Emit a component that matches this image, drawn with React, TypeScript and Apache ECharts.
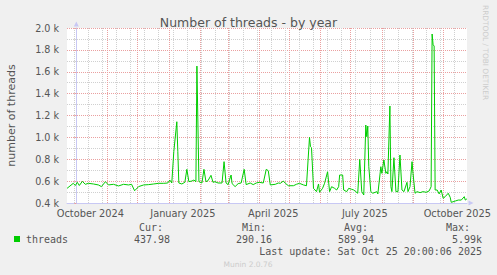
import { useEffect, useRef } from 'react';
import * as echarts from 'echarts';

const TITLE = 'Number of threads - by year';
const Y_NAME = 'number of threads';
const SERIES_NAME = 'threads';
const LAST_UPDATE = 'Last update: Sat Oct 25 20:00:06 2025';
const FOOTER = 'Munin 2.0.76';
const WATERMARK = 'RRDTOOL / TOBI OETIKER';

// days counted from 1 October 2024 (UTC)
const days = [-9.2, -3, -1, 1, 3, 6, 9, 12, 17, 22, 25, 29, 32, 37, 42, 47, 52, 55, 58, 62, 67, 72, 77, 82, 87, 91, 93, 95, 97, 100, 101, 102, 105, 108, 110, 112, 115, 117, 119, 120, 122, 125, 127, 129, 131, 134, 136, 138, 141, 145, 147, 149, 151, 154, 155, 158, 161, 164, 167, 169, 173, 176, 179, 182, 186, 189, 191, 193, 198, 201, 203, 206, 208, 211, 216, 219, 222, 226, 229, 232, 233, 234, 236, 239, 241, 242, 245, 247, 250, 252, 254, 257, 259, 261, 262, 265, 266, 269, 271, 274, 276, 278, 280, 282, 284, 286, 288, 289, 290, 291, 293, 295, 299, 300, 303, 304, 306, 308, 309, 310, 312, 313, 314, 316, 318, 320, 322, 324, 326, 329, 330, 332, 334, 335, 337, 339, 342, 345, 348, 351, 353, 354, 355, 356, 357, 359, 361, 363, 365, 367, 370, 372, 373, 377, 380, 383, 386, 387, 388.6];
const threads = [534, 580, 560, 589, 560, 598, 571, 580, 574, 565, 550, 595, 565, 571, 556, 571, 565, 571, 512, 550, 565, 568, 574, 580, 580, 583, 610, 583, 869, 1143, 869, 583, 574, 589, 708, 595, 601, 610, 595, 1652, 595, 583, 708, 595, 604, 653, 589, 595, 583, 583, 778, 583, 568, 656, 577, 550, 577, 583, 708, 568, 583, 568, 583, 589, 583, 708, 695, 565, 571, 583, 580, 601, 580, 558, 558, 571, 580, 565, 558, 1000, 915, 906, 534, 504, 574, 498, 534, 580, 686, 504, 549, 534, 519, 549, 656, 656, 519, 504, 534, 525, 519, 504, 489, 799, 504, 473, 1113, 1006, 1104, 732, 504, 489, 504, 483, 732, 671, 793, 671, 686, 665, 1287, 549, 504, 814, 504, 504, 839, 519, 504, 589, 504, 549, 778, 671, 489, 504, 495, 504, 498, 510, 549, 1945, 1845, 1836, 519, 519, 483, 519, 443, 458, 489, 452, 406, 418, 427, 427, 458, 427, 438];

const xLabels = ['October 2024', 'January 2025', 'April 2025', 'July 2025', 'October 2025'];
const statHeaders = ['Cur:', 'Min:', 'Avg:', 'Max:'];
const statValues = ['437.98', '290.16', '589.94', '5.99k'];

const DAY = 86400000;
const BASE = Date.UTC(2024, 9, 1);
const dayOf = (y: number, m: number, d: number) => (Date.UTC(y, m, d) - BASE) / DAY;

const X_MIN = -9.25;
const X_MAX = 388.7;
const Y_MIN = 400;
const Y_MAX = 2000;
const Y_STEP = 200;

const xLabelDays = [dayOf(2024, 9, 15), dayOf(2025, 0, 15), dayOf(2025, 3, 15), dayOf(2025, 6, 15), dayOf(2025, 9, 15)];
const monthStarts: number[] = [];
for (let m = 9; m <= 21; m++) monthStarts.push(dayOf(2024, m, 1));
const minorDays: number[] = [];
for (let d = dayOf(2024, 8, 29); d < X_MAX; d += 14) minorDays.push(d);

const FONT = 'DejaVu Sans';
const MONO = 'DejaVu Sans Mono';
const TEXT = '#555555';
const MAJOR = '#eaa0a0';
const MINOR = '#d0d0d0';
const AXIS = '#c8c8f4';
const GREEN = '#00cc00';

function gridAxis(values: number[], color: string) {
  return {
    type: 'value', min: X_MIN, max: X_MAX, position: 'bottom',
    axisLine: { show: false },
    axisLabel: { show: false },
    axisTick: { show: false, customValues: values },
    splitLine: { show: true, lineStyle: { color, width: 1, type: [1, 1] } },
  };
}

export default function App() {
  const ref = useRef<HTMLDivElement>(null);
  useEffect(() => {
    const chart = echarts.init(ref.current!, null, { renderer: 'svg' });
    const graphics: any[] = [];
    const headerRight = [163, 266, 368, 470];
    const valueRight = [170, 272, 374, 482];
    statHeaders.forEach((h, i) => {
      graphics.push({
        type: 'text', x: headerRight[i], y: 227,
        style: { text: h, fill: TEXT, font: `10px "${MONO}"`, textAlign: 'right', textVerticalAlign: 'middle' },
      });
      graphics.push({
        type: 'text', x: valueRight[i], y: 239.5,
        style: { text: statValues[i], fill: TEXT, font: `10px "${MONO}"`, textAlign: 'right', textVerticalAlign: 'middle' },
      });
    });
    graphics.push({
      type: 'text', x: 482, y: 251.5,
      style: { text: LAST_UPDATE, fill: TEXT, font: `10px "${MONO}"`, textAlign: 'right', textVerticalAlign: 'middle' },
    });
    graphics.push({
      type: 'text', x: 248, y: 264,
      style: { text: FOOTER, fill: '#cccccc', font: `7.5px "${FONT}"`, textAlign: 'center', textVerticalAlign: 'middle' },
    });
    graphics.push({
      type: 'text', x: 485, y: 5, rotation: -Math.PI / 2,
      style: { text: WATERMARK, fill: '#cccccc', font: `7.4px "${FONT}"`, textAlign: 'left', textVerticalAlign: 'middle' },
    });

    chart.setOption({
      animation: false,
      backgroundColor: '#f0f0f0',
      title: {
        text: TITLE, left: 'center', top: 11,
        textStyle: { fontFamily: FONT, fontSize: 12.5, fontWeight: 'normal', color: TEXT },
      },
      legend: {
        data: [SERIES_NAME], left: 14, top: 234, icon: 'rect', itemWidth: 6, itemHeight: 6,
        selectedMode: false, padding: 0,
        textStyle: { fontFamily: MONO, fontSize: 10, color: TEXT, padding: [0, 0, 0, 1] },
      },
      grid: { left: 67, top: 28, width: 400, height: 175, show: true, backgroundColor: '#ffffff', borderWidth: 0, outerBoundsMode: 'none' },
      xAxis: [
        {
          type: 'value', min: X_MIN, max: X_MAX, position: 'bottom',
          axisLine: { show: true, onZero: false, lineStyle: { color: AXIS }, symbol: ['none', 'triangle'], symbolSize: [5, 5], symbolOffset: [0, 4] },
          axisTick: { show: false },
          splitLine: { show: false },
          axisLabel: {
            customValues: xLabelDays, margin: 5, color: TEXT, fontFamily: FONT, fontSize: 9.8,
            formatter: (v: number) => {
              const i = xLabelDays.findIndex((d) => Math.abs(d - v) < 0.01);
              return i >= 0 ? xLabels[i] : '';
            },
          },
        },
        gridAxis(minorDays, MINOR),
        gridAxis(monthStarts, MAJOR),
      ],
      yAxis: {
        type: 'value', min: Y_MIN, max: Y_MAX, interval: Y_STEP,
        name: Y_NAME, nameLocation: 'middle', nameGap: 50, nameRotate: 90,
        nameTextStyle: { fontFamily: FONT, fontSize: 11, color: TEXT },
        axisLine: { show: true, lineStyle: { color: AXIS }, symbol: ['none', 'triangle'], symbolSize: [5, 5], symbolOffset: [0, 4] },
        axisTick: { show: true, length: 2, lineStyle: { color: MAJOR } },
        minorTick: { show: true, splitNumber: 2, length: 2, lineStyle: { color: MINOR } },
        axisLabel: {
          margin: 8, color: TEXT, fontFamily: FONT, fontSize: 9.6,
          formatter: (v: number) => (v / 1000).toFixed(1) + ' k',
        },
        splitLine: { show: true, lineStyle: { color: MAJOR, type: [1, 1] } },
        minorSplitLine: { show: true, lineStyle: { color: MINOR, type: [1, 1] } },
      },
      series: [
        {
          name: SERIES_NAME, type: 'line', z: 3, xAxisIndex: 0,
          data: days.map((d, i) => [d, threads[i]]),
          showSymbol: false, symbol: 'none',
          lineStyle: { color: GREEN, width: 1 },
          itemStyle: { color: GREEN },
        },
      ],
      graphic: graphics,
    });
    return () => chart.dispose();
  }, []);
  return <div ref={ref} style={{ position: 'fixed', left: 0, top: 0, width: 497, height: 275 }} />;
}
